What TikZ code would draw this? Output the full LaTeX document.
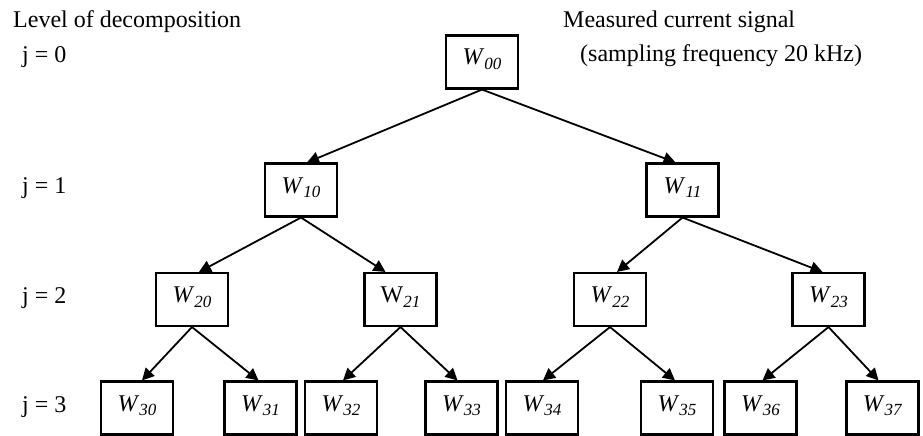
\documentclass[tikz,border=0pt]{standalone}
\usepackage{fontspec}
\setmainfont{Liberation Serif}
\usetikzlibrary{arrows.meta}
\tikzset{
  wbox/.style={draw, line width=2.1pt, minimum width=72pt, minimum height=53pt, inner sep=0pt, text height=10pt, text depth=4pt, font=\fontsize{24}{26}\selectfont},
  arr/.style={line width=1.8pt, -{Triangle[length=12pt,width=12pt]}},
  lab/.style={font=\fontsize{24}{28}\selectfont, inner sep=0pt, anchor=base west}
}
\newcommand\wsub[1]{\raisebox{-4.5pt}{\fontsize{17}{19}\selectfont\textit{#1}}}
\newcommand\wl[1]{\textit{W}\wsub{#1}}
\begin{document}
\begin{tikzpicture}[x=1pt,y=-1pt]
\useasboundingbox (0,0) rectangle (923,436);
% texts
\node[lab] (lvl) at (13,28) {Level of decomposition};
\node[lab] (j0) at (22,63) {j = 0};
\node[lab] (j1) at (22,193) {j = 1};
\node[lab] (j2) at (22,303) {j = 2};
\node[lab] (j3) at (22,412) {j = 3};
\node[lab] (m1) at (563,28) {Measured current signal};
\node[lab] (m2) at (580,62) {(sampling frequency 20 kHz)};
% boxes
\node[wbox] (w00) at (482,62) {\wl{00}};
\node[wbox] (w10) at (301,190) {\wl{10}};
\node[wbox] (w11) at (682.5,190) {\wl{11}};
\node[wbox] (w20) at (192,299.5) {\wl{20}};
\node[wbox] (w21) at (400.5,299.5) {W\wsub{21}};
\node[wbox] (w22) at (610,299.5) {\wl{22}};
\node[wbox] (w23) at (828.5,299.5) {\wl{23}};
\node[wbox] (w30) at (137,408) {\wl{30}};
\node[wbox] (w31) at (260.5,408) {\wl{31}};
\node[wbox] (w32) at (341,408) {\wl{32}};
\node[wbox] (w33) at (461.5,408) {\wl{33}};
\node[wbox] (w34) at (542,408) {\wl{34}};
\node[wbox] (w35) at (677,408) {\wl{35}};
\node[wbox] (w36) at (760.5,408) {\wl{36}};
\node[wbox] (w37) at (882.5,408) {\wl{37}};
% arrows
\draw[arr] (w00.south) -- ([xshift=6pt]w10.north);
\draw[arr] (w00.south) -- ([xshift=-7pt]w11.north);
\draw[arr] (w10.south) -- ([xshift=7pt]w20.north);
\draw[arr] (w10.south) -- ([xshift=-15pt]w21.north);
\draw[arr] (w11.south) -- ([xshift=7pt]w22.north);
\draw[arr] (w11.south) -- ([xshift=-6pt]w23.north);
\draw[arr] (w20.south) -- ([xshift=5pt]w30.north);
\draw[arr] (w20.south) -- ([xshift=-2pt]w31.north);
\draw[arr] (w21.south) -- ([xshift=2pt]w32.north);
\draw[arr] (w21.south) -- ([xshift=-4pt]w33.north);
\draw[arr] (w22.south) -- ([xshift=1pt]w34.north);
\draw[arr] (w22.south) -- ([xshift=-2pt]w35.north);
\draw[arr] (w23.south) -- ([xshift=2pt]w36.north);
\draw[arr] (w23.south) -- ([xshift=-4pt]w37.north);
\end{tikzpicture}
\end{document}
